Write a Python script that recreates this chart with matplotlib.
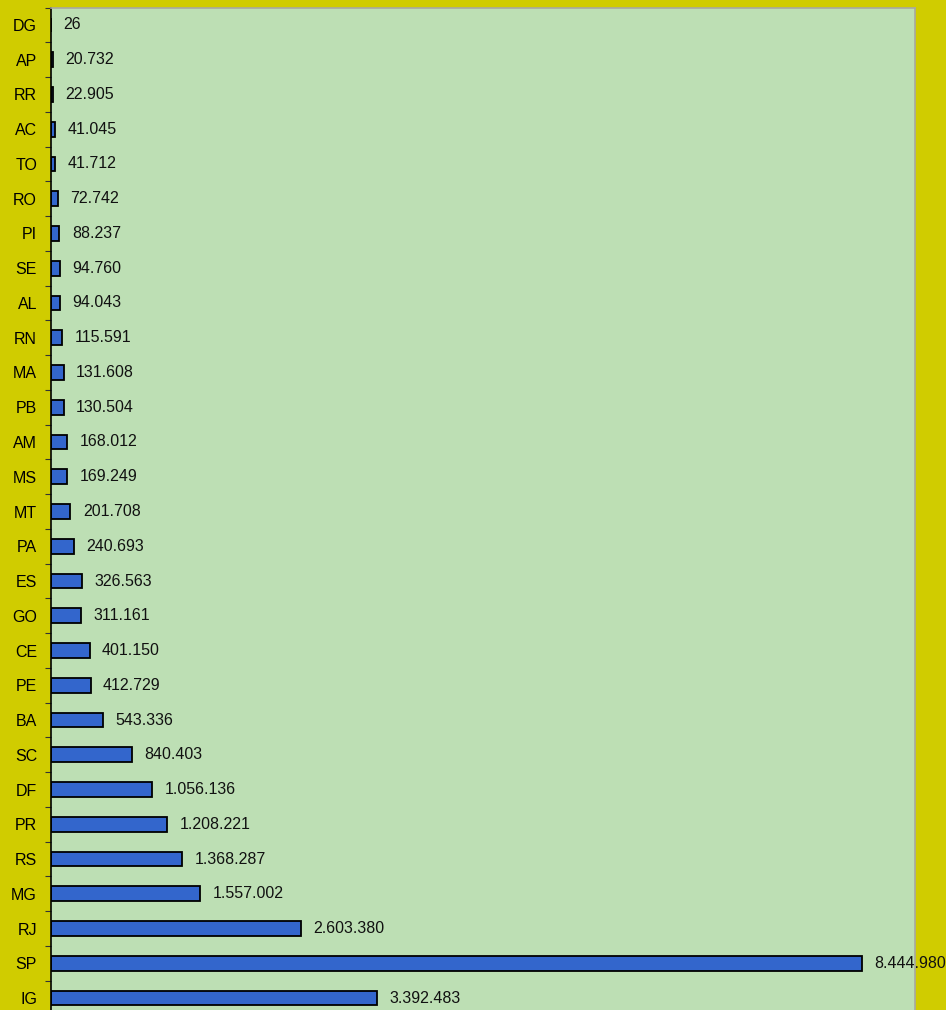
import matplotlib.pyplot as plt
import numpy as np

# --- Data ---
states = ["DG", "AP", "RR", "AC", "TO", "RO", "PI", "SE", "AL", "RN",
          "MA", "PB", "AM", "MS", "MT", "PA", "ES", "GO", "CE", "PE",
          "BA", "SC", "DF", "PR", "RS", "MG", "RJ", "SP", "IG"]
values = [26, 20732, 22905, 41045, 41712, 72742, 88237, 94760, 94043, 115591,
          131608, 130504, 168012, 169249, 201708, 240693, 326563, 311161, 401150, 412729,
          543336, 840403, 1056136, 1208221, 1368287, 1557002, 2603380, 8444980, 3392483]

yellow = "#D0CC00"
green = "#BDDFB4"
blue = "#3366CC"

W, H = 946, 1010
fig = plt.figure(figsize=(W / 100, H / 100), dpi=100, facecolor=yellow)
plt.rcParams['font.family'] = ['Liberation Sans', 'DejaVu Sans']

# axes box in pixels (bottom edge runs past the image)
left, right, top, bottom = 51, 915, 7.6, 1015.4
ax = fig.add_axes([left / W, (H - bottom) / H, (right - left) / W, (bottom - top) / H])
ax.set_facecolor(green)

y = np.arange(len(states))
ax.barh(y, values, height=0.42, color=blue, edgecolor="black", linewidth=1.3)

ax.set_xlim(0, 9000000)
ax.set_ylim(len(states) - 0.5, -0.5)

def fmt(v):
    return f"{v:,}".replace(",", ".")

for yi, v in zip(y, values):
    ax.annotate(fmt(v), xy=(v, yi), xytext=(9, 0), textcoords="offset points",
                ha="left", va="center", fontsize=11.5, color="#111111",
                annotation_clip=False)

ax.set_yticks(y)
ax.set_yticklabels(states, fontsize=11.5)
ax.tick_params(axis="y", which="major", length=0, pad=10)
ax.set_yticks(np.arange(len(states) + 1) - 0.5, minor=True)
ax.tick_params(axis="y", which="minor", length=4, width=0.8, color="#333333")
ax.set_xticks([])

ax.spines["left"].set_color("black")
ax.spines["left"].set_linewidth(1.2)
for s in ["top", "right"]:
    ax.spines[s].set_color("#A8A8A0")
    ax.spines[s].set_linewidth(1.2)
ax.spines["bottom"].set_visible(False)

fig.savefig("out.png", dpi=100, facecolor=yellow)
